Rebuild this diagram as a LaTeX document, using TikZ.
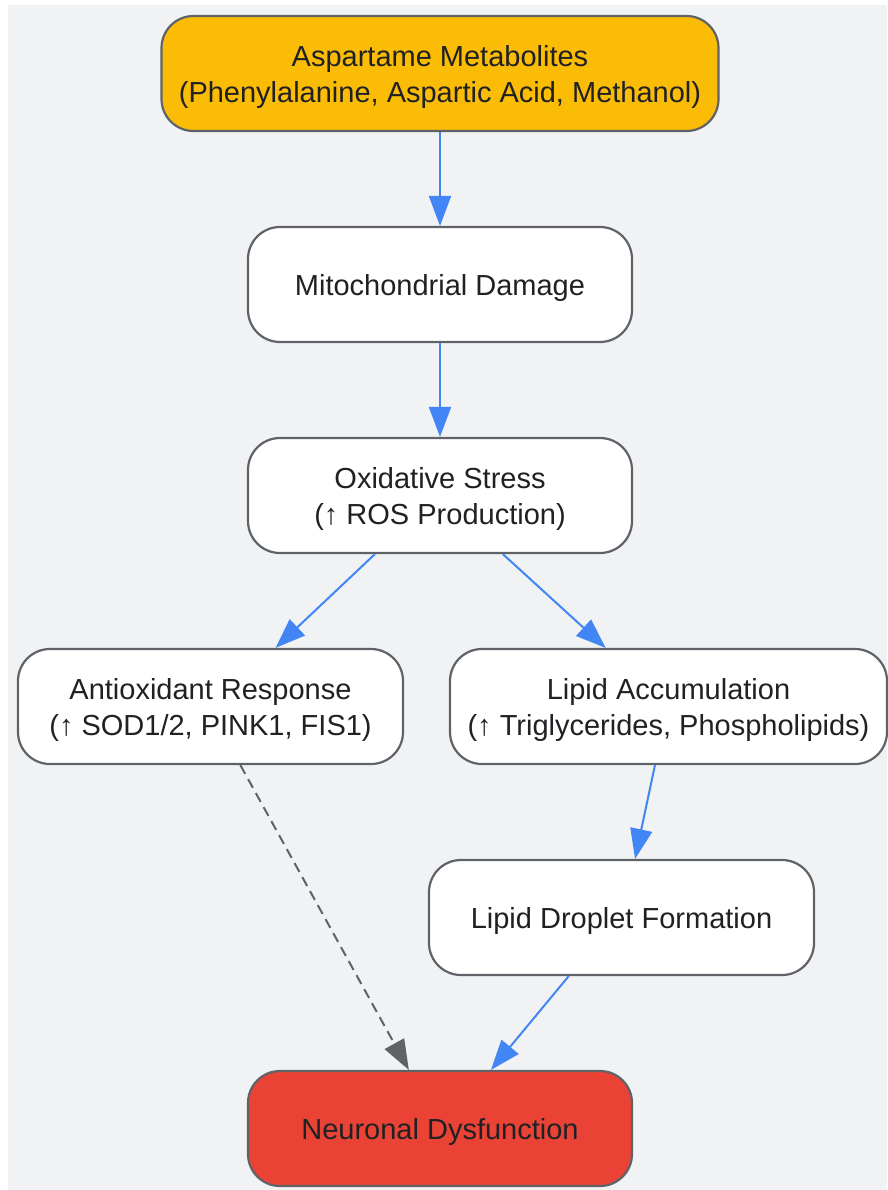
\documentclass[tikz,border=0pt]{standalone}
\usepackage{fontspec}
\setmainfont{Liberation Sans}
\usepackage{tikz}
\usetikzlibrary{arrows.meta}
\definecolor{bgGray}{HTML}{F1F2F4}
\definecolor{flowBlue}{HTML}{4285F4}
\definecolor{rimGray}{HTML}{5F6368}
\definecolor{metaGold}{HTML}{FBBC05}
\definecolor{alertRed}{HTML}{EA4335}
\definecolor{ink}{HTML}{202124}

\begin{document}
\begin{tikzpicture} [x=1pt, y=-1pt,
  box/.style={draw=rimGray, line width=2.2pt, fill=white, rounded corners=32pt
    , minimum height=115pt, align=center, text=ink, text depth=0pt
    , font=\fontsize{29}{36}\selectfont},
  flow/.style={color=flowBlue, line width=2pt, -{Triangle[length=30pt,width=22pt]}}
]
  \useasboundingbox (0,0) rectangle (887,1190);
  \fill[bgGray] (8,5) rectangle (887,1190);

  \node[box, fill=metaGold, minimum width=557pt] (meta) at (440,73.5)
    {Aspartame Metabolites\\(Phenylalanine, Aspartic Acid, Methanol)};
  \node[box, minimum width=384pt] (mito) at (440,284.5) {Mitochondrial Damage};
  \node[box, minimum width=384pt] (ox) at (440,495.5)
    {Oxidative Stress\\(↑ ROS Production)};
  \node[box, minimum width=385pt] (anti) at (210.5,706.5)
    {Antioxidant Response\\(↑ SOD1/2, PINK1, FIS1)};
  \node[box, minimum width=437pt] (lipid) at (668.5,706.5)
    {Lipid Accumulation\\(↑ Triglycerides, Phospholipids)};
  \node[box, minimum width=385pt] (drop) at (621.5,917.5) {Lipid Droplet Formation};
  \node[box, fill=alertRed, minimum width=384pt] (neuro) at (440,1128.5) {Neuronal Dysfunction};

  \path[flow]
  (meta) edge (mito)
  (mito) edge (ox)
  (ox.222) edge (anti.42)
  (ox.317.6) edge (lipid.137.8)
  (lipid.257.7) edge (drop.77.7)
  (drop.228.7) edge (neuro.49)
  ;
  \path[color=rimGray, line width=2pt, dash pattern=on 10pt off 6pt
    , -{Triangle[length=30pt,width=22pt]}]
  (anti.297.9) edge (neuro.118.3)
  ;
\end{tikzpicture}
\end{document}
